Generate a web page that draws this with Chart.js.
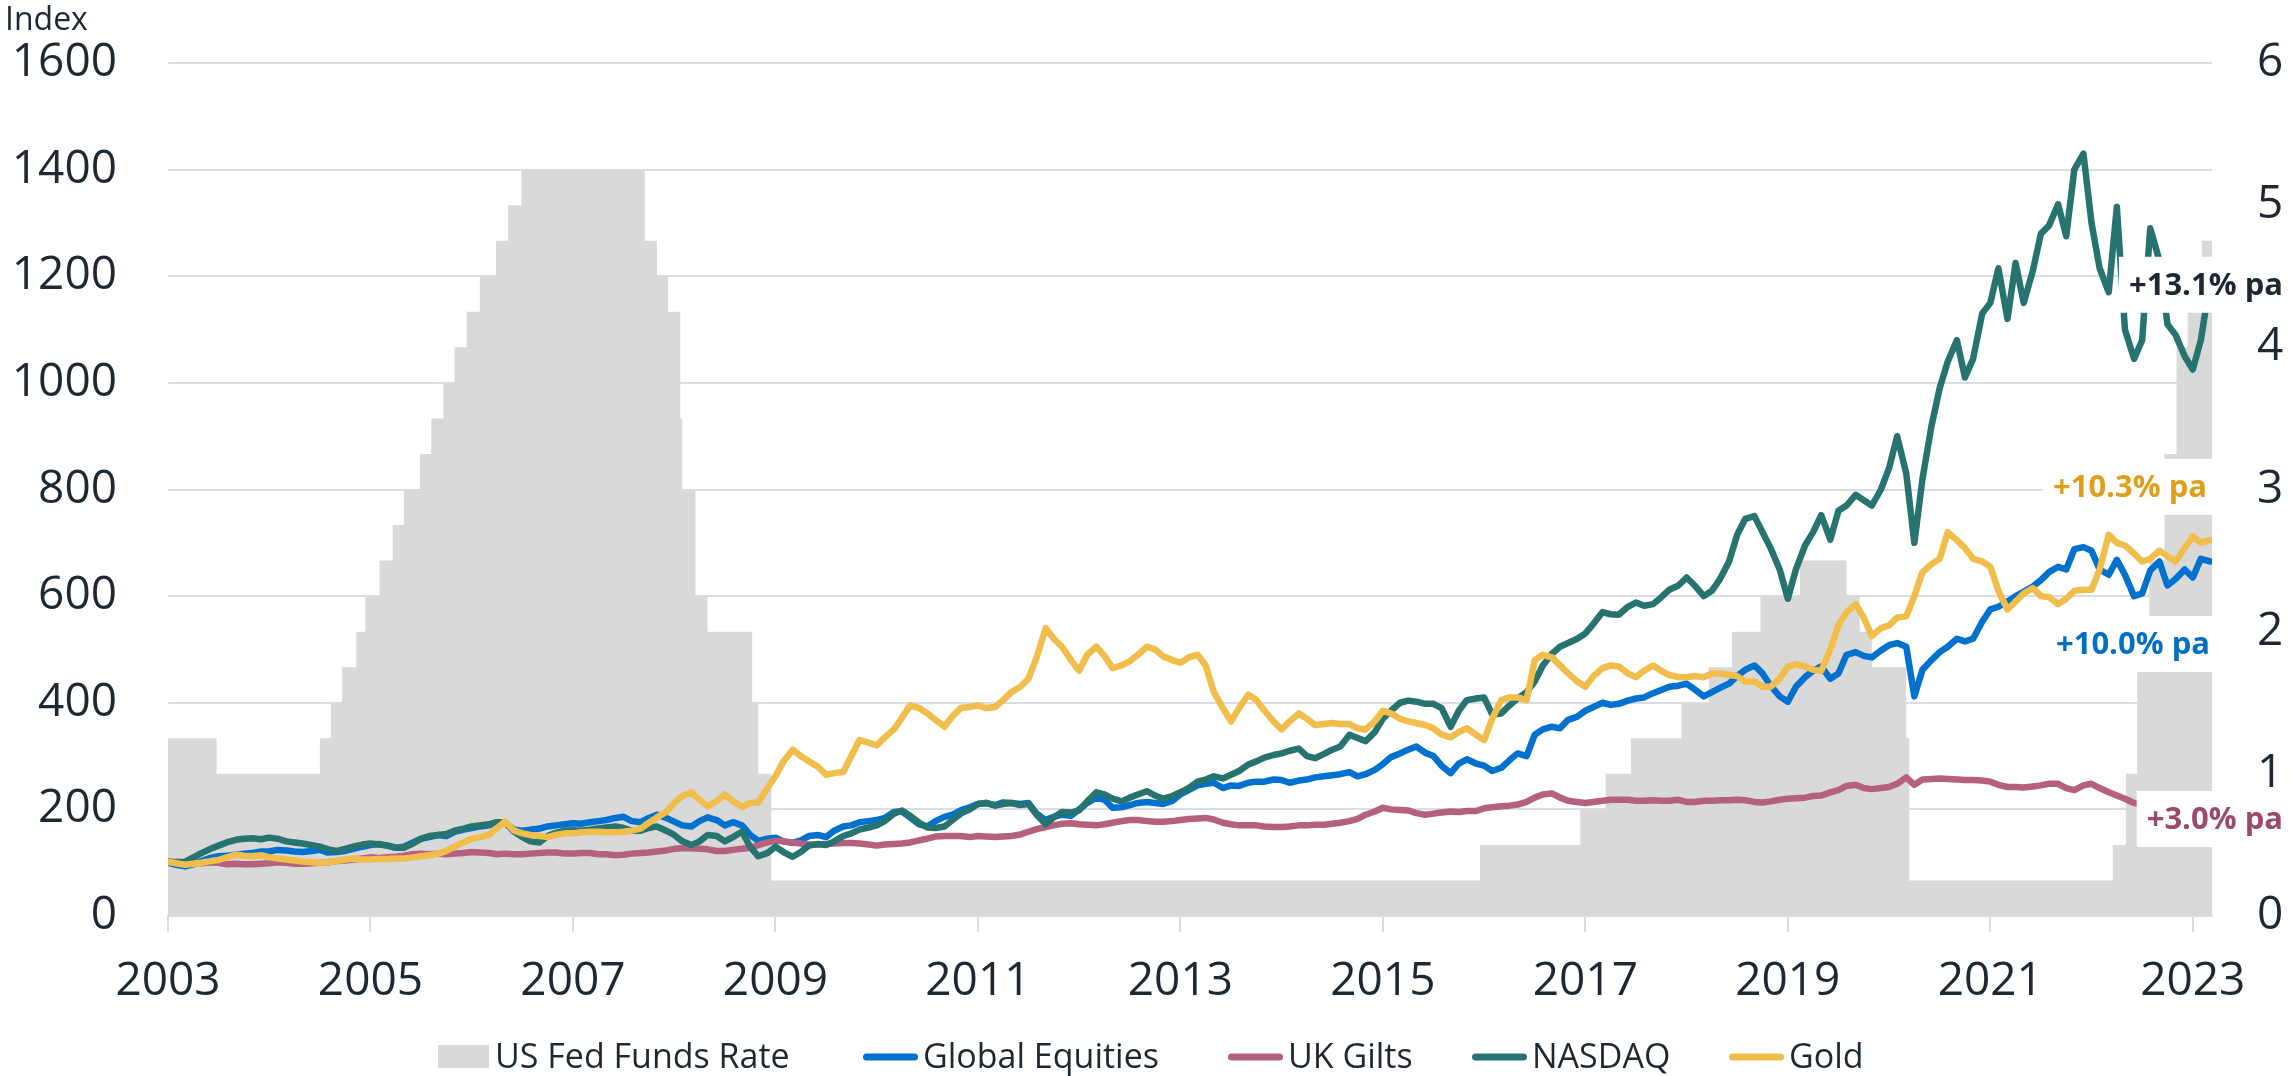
<!DOCTYPE html>
<html>
<head>
<meta charset="utf-8">
<script src="https://cdn.jsdelivr.net/npm/chart.js@4.4.0/dist/chart.umd.min.js"></script>
<style>
html,body{margin:0;padding:0;background:#ffffff;}
canvas{display:block;}
</style>
</head>
<body>
<canvas id="c" width="2290" height="1076"></canvas>
<script>
// ---------------- DATA (monthly observations, decimal years) ----------------
const dates = [
2003.00,2003.08,2003.17,2003.25,2003.33,2003.42,2003.50,2003.58,2003.67,2003.75,2003.83,2003.92,
2004.00,2004.08,2004.17,2004.25,2004.33,2004.42,2004.50,2004.58,2004.67,2004.75,2004.83,2004.92,
2005.00,2005.08,2005.17,2005.25,2005.33,2005.42,2005.50,2005.58,2005.67,2005.75,2005.83,2005.92,
2006.00,2006.08,2006.17,2006.25,2006.33,2006.42,2006.50,2006.58,2006.67,2006.75,2006.83,2006.92,
2007.00,2007.08,2007.17,2007.25,2007.33,2007.42,2007.50,2007.58,2007.67,2007.75,2007.83,2007.92,
2008.00,2008.08,2008.17,2008.25,2008.33,2008.42,2008.50,2008.58,2008.67,2008.75,2008.83,2008.92,
2009.00,2009.08,2009.17,2009.25,2009.33,2009.42,2009.50,2009.58,2009.67,2009.75,2009.83,2009.92,
2010.00,2010.08,2010.17,2010.25,2010.33,2010.42,2010.50,2010.58,2010.67,2010.75,2010.83,2010.92,
2011.00,2011.08,2011.17,2011.25,2011.33,2011.42,2011.50,2011.58,2011.67,2011.75,2011.83,2011.92,
2012.00,2012.08,2012.17,2012.25,2012.33,2012.42,2012.50,2012.58,2012.67,2012.75,2012.83,2012.92,
2013.00,2013.08,2013.17,2013.25,2013.33,2013.42,2013.50,2013.58,2013.67,2013.75,2013.83,2013.92,
2014.00,2014.08,2014.17,2014.25,2014.33,2014.42,2014.50,2014.58,2014.67,2014.75,2014.83,2014.92,
2015.00,2015.08,2015.17,2015.25,2015.33,2015.42,2015.50,2015.58,2015.67,2015.75,2015.83,2015.92,
2016.00,2016.08,2016.17,2016.25,2016.33,2016.42,2016.50,2016.58,2016.67,2016.75,2016.83,2016.92,
2017.00,2017.08,2017.17,2017.25,2017.33,2017.42,2017.50,2017.58,2017.67,2017.75,2017.83,2017.92,
2018.00,2018.08,2018.17,2018.25,2018.33,2018.42,2018.50,2018.58,2018.67,2018.75,2018.83,2018.92,
2019.00,2019.08,2019.17,2019.25,2019.33,2019.42,2019.50,2019.58,2019.67,2019.75,2019.83,2019.92,
2020.00,2020.08,2020.17,2020.25,2020.33,2020.42,2020.50,2020.58,2020.67,2020.75,2020.83,2020.92,
2021.00,2021.08,2021.17,2021.25,2021.33,2021.42,2021.50,2021.58,2021.67,2021.75,2021.83,2021.92,
2022.00,2022.08,2022.17,2022.25,2022.33,2022.42,2022.50,2022.58,2022.67,2022.75,2022.83,2022.92,
2023.00,2023.08,2023.17
];

const globalEquities = [
100,96,93,97,103,109,112,113,115,117,118,121,
121,124,123,121,120,122,124,119,120,122,126,130,
133,135,132,128,130,138,145,148,152,150,158,162,
165,168,170,176,174,162,160,162,164,168,170,172,
174,173,176,178,180,184,186,178,176,184,190,184,
177,170,168,178,185,180,170,176,170,152,141,145,
147,140,137,142,150,152,148,160,168,170,176,178,
180,184,195,196,185,172,168,178,186,190,198,204,
210,212,208,213,212,210,212,192,180,186,190,188,
200,212,222,218,203,204,208,212,214,212,210,216,
228,236,245,248,250,240,245,244,250,252,252,256,
255,250,254,256,260,262,264,266,270,262,266,274,
285,298,305,312,318,306,300,282,268,286,294,286,
282,272,278,292,305,300,340,350,355,352,368,374,
385,392,400,396,398,404,408,410,418,424,430,432,
436,425,412,420,428,436,450,462,470,455,432,412,
402,430,448,460,468,445,455,490,495,488,485,498,
508,512,505,412,462,480,495,505,520,515,520,552,
575,580,590,600,608,618,630,645,655,650,688,692,
685,650,640,668,640,600,605,648,665,620,632,650,
635,670,665
];

const ukGilts = [
100,102,101,100,99,101,100,97,98,97,97,98,
99,101,100,98,98,99,100,101,103,104,106,108,
110,109,110,111,113,116,117,116,117,116,117,118,
120,119,118,116,117,116,116,117,118,119,119,117,
117,118,118,116,116,114,115,117,118,119,121,123,
126,127,127,126,125,122,122,124,126,128,133,138,
141,140,138,136,134,134,135,136,137,137,136,134,
132,134,135,136,138,142,145,149,150,150,150,148,
150,149,148,149,150,153,158,163,167,170,173,174,
172,171,170,172,175,178,180,180,178,177,177,178,
180,182,183,184,181,175,172,170,170,170,168,167,
167,168,170,170,171,171,173,175,178,182,190,196,
203,200,199,198,193,190,192,194,196,195,197,197,
202,204,206,207,209,214,222,228,230,222,216,214,
212,214,216,218,218,218,216,216,217,216,216,218,
214,214,216,216,217,217,218,217,214,213,215,218,
220,221,222,225,226,232,236,244,246,240,238,240,
242,248,260,246,256,257,258,257,256,255,255,254,
252,246,242,242,241,243,245,248,248,240,236,245,
248,240,232,226,220,212,208,210,203,185,176,180,
185,186,182
];

const nasdaq = [
103,100,102,110,118,126,132,138,143,145,146,144,
147,145,140,138,136,133,130,125,122,126,130,134,
136,134,132,128,128,136,145,150,152,154,160,164,
168,170,172,176,175,158,148,140,138,150,156,160,
161,160,162,164,166,168,165,160,160,165,168,160,
152,140,133,140,152,150,140,148,158,130,112,118,
130,120,111,120,132,135,133,140,150,155,162,166,
170,178,192,198,188,175,166,165,168,180,192,200,
210,212,207,210,212,208,210,190,172,185,195,194,
198,215,232,228,220,215,222,228,234,226,220,225,
232,240,252,256,262,258,265,272,284,290,297,302,
305,310,314,300,296,304,312,318,340,334,328,345,
370,385,400,404,402,398,398,390,355,385,405,408,
410,378,380,395,408,420,440,470,492,505,512,520,
530,548,570,566,565,580,588,582,585,598,612,620,
635,620,600,610,632,665,715,745,750,720,690,650,
595,650,695,720,752,706,760,770,790,780,770,800,
840,900,830,700,820,920,990,1040,1080,1010,1045,1130,
1150,1215,1120,1225,1150,1210,1280,1295,1335,1275,1400,1430,
1300,1215,1170,1330,1100,1045,1080,1290,1230,1110,1090,1050,
1025,1080,1190
];

const gold = [
102,99,96,98,100,103,105,110,115,113,112,114,
110,108,106,104,102,101,100,101,103,106,108,106,
106,107,107,108,108,110,112,114,117,122,130,138,
145,148,152,165,177,160,155,152,150,148,152,155,
155,157,158,158,157,157,158,160,164,175,185,195,
212,225,232,218,206,215,228,215,205,212,213,240,
262,290,312,300,290,280,265,268,270,300,330,325,
320,335,350,372,395,390,380,368,355,375,390,392,
395,390,392,405,420,430,445,485,540,520,505,480,
460,490,505,488,465,470,478,490,505,500,487,480,
475,485,490,470,420,390,365,390,415,405,385,365,
350,365,380,370,358,360,362,360,360,352,350,365,
385,380,370,365,362,358,352,340,335,345,352,340,
330,370,405,410,410,405,480,490,485,470,455,440,
430,450,465,470,468,455,448,460,470,460,452,448,
448,450,448,455,455,452,450,440,440,430,430,445,
468,472,468,462,460,500,545,570,585,560,525,540,
545,560,562,600,645,660,670,720,705,690,670,665,
655,610,575,590,605,615,600,598,585,595,610,612,
612,650,715,700,695,680,665,670,685,675,665,690,
712,700,705
];

const fedDates = [
2003.00,2003.48,2004.50,2004.61,2004.72,2004.86,2004.95,2005.09,2005.22,2005.33,
2005.49,2005.60,2005.72,2005.83,2005.95,2006.08,2006.24,2006.36,2006.49,2007.71,
2007.83,2007.94,2008.06,2008.08,2008.21,2008.33,2008.77,2008.83,2008.96,2015.96,
2016.95,2017.20,2017.45,2017.95,2018.22,2018.45,2018.73,2019.12,2019.58,2019.71,
2019.83,2020.17,2020.20,2022.21,2022.34,2022.45,2022.57,2022.72,2022.84,2022.95,
2023.09,2023.19
];
const fedRates = [
1.25,1.00,1.25,1.50,1.75,2.00,2.25,2.50,2.75,3.00,
3.25,3.50,3.75,4.00,4.25,4.50,4.75,5.00,5.25,4.75,
4.50,4.25,3.50,3.00,2.25,2.00,1.50,1.00,0.25,0.50,
0.75,1.00,1.25,1.50,1.75,2.00,2.25,2.50,2.25,2.00,
1.75,1.25,0.25,0.50,1.00,1.75,2.50,3.25,4.00,4.50,
4.75,4.75
];

const xTickYears = [2003,2005,2007,2009,2011,2013,2015,2017,2019,2021,2023];
const seriesNames = ['US Fed Funds Rate','Global Equities','UK Gilts','NASDAQ','Gold'];
const returnLabels = ['+13.1% pa','+10.3% pa','+10.0% pa','+3.0% pa'];

// ---------------- STYLE ----------------
const COL = {
  fed: '#D9D9D9', eq: '#0071CE', gilts: '#B5607F', nasdaq: '#26736F', gold: '#F1BD4B',
  text: '#1E2833', grid: '#D9DEE6', axis: '#D6DCE4'
};
const FONT = '"Open Sans", "DejaVu Sans", sans-serif';

Chart.defaults.font.family = FONT;
Chart.defaults.color = COL.text;

const toXY = (xs, ys) => xs.map((x, i) => ({x: x, y: ys[i]}));

// annotation placement: vertical centre in index units, pixel offsets from plot right edge
const annotationCfg = [
  {label: 0, color: '#1E2833', level: 1184, textRight: 71, boxRight: 80},
  {label: 1, color: '#DF9F1C', level: 805,  textRight: -5, boxRight: 3},
  {label: 2, color: '#0070C4', level: 510,  textRight: -2, boxRight: 3},
  {label: 3, color: '#9C4A6B', level: 182,  textRight: 71, boxRight: 80}
];
// legend symbol left edges (pixels)
const legendX = [438, 863, 1228, 1472, 1729];

const annotationPlugin = {
  id: 'returnLabels',
  afterDatasetsDraw(chart) {
    const ctx = chart.ctx, y = chart.scales.y, area = chart.chartArea;
    ctx.save();
    ctx.font = 'bold 31px ' + FONT;
    ctx.textBaseline = 'middle';
    ctx.textAlign = 'right';
    annotationCfg.forEach(a => {
      const txt = returnLabels[a.label];
      const py = y.getPixelForValue(a.level);
      const tr = area.right + a.textRight;
      const w = ctx.measureText(txt).width;
      const left = tr - w - 10;
      const right = area.right + a.boxRight;
      ctx.fillStyle = '#ffffff';
      ctx.fillRect(left, py - 28, right - left, 56);
      ctx.fillStyle = a.color;
      ctx.fillText(txt, tr, py + 1);
    });
    ctx.restore();
  },
  afterDraw(chart) {
    const ctx = chart.ctx;
    ctx.save();
    ctx.font = '32px ' + FONT;
    ctx.fillStyle = COL.text;
    ctx.textAlign = 'left';
    ctx.textBaseline = 'alphabetic';
    ctx.fillText('Index', 5, 30);
    ctx.font = '34px ' + FONT;
    ctx.textBaseline = 'middle';
    const ly = 1057;
    chart.data.datasets.forEach((d, i) => {
      const x = legendX[i];
      let tx;
      if (d.fill) {
        ctx.fillStyle = d.backgroundColor;
        ctx.fillRect(x, ly - 12, 51, 23);
        tx = x + 57;
      } else {
        ctx.strokeStyle = d.borderColor;
        ctx.lineWidth = 7;
        ctx.lineCap = 'round';
        ctx.beginPath();
        ctx.moveTo(x + 3.5, ly);
        ctx.lineTo(x + 55 - 3.5, ly);
        ctx.stroke();
        tx = x + 60;
      }
      ctx.fillStyle = COL.text;
      ctx.fillText(d.label, tx, ly + 1);
    });
    ctx.restore();
  }
};

const lineDs = (label, vals, color, order) => ({
  label: label, data: toXY(dates, vals), yAxisID: 'y',
  borderColor: color, backgroundColor: color, borderWidth: 6.5,
  pointRadius: 0, pointHoverRadius: 0, tension: 0,
  borderJoinStyle: 'round', borderCapStyle: 'round', fill: false, order: order
});

const noPad = s => { s.paddingTop = 0; s.paddingBottom = 0; };

const chart = new Chart(document.getElementById('c'), {
  type: 'line',
  data: {
    datasets: [
      {
        label: seriesNames[0], data: toXY(fedDates, fedRates), yAxisID: 'y1',
        stepped: true, fill: 'origin', backgroundColor: COL.fed,
        borderColor: 'rgba(0,0,0,0)', borderWidth: 0, pointRadius: 0, pointHoverRadius: 0, order: 5
      },
      lineDs(seriesNames[1], globalEquities, COL.eq, 4),
      lineDs(seriesNames[2], ukGilts, COL.gilts, 3),
      lineDs(seriesNames[3], nasdaq, COL.nasdaq, 2),
      lineDs(seriesNames[4], gold, COL.gold, 1)
    ]
  },
  options: {
    responsive: false,
    devicePixelRatio: 1,
    animation: false,
    events: [],
    layout: { padding: { top: 63, left: 0, right: 0, bottom: 0 } },
    plugins: { legend: { display: false }, tooltip: { enabled: false } },
    scales: {
      x: {
        type: 'linear', min: 2003, max: 2023.19,
        afterBuildTicks: s => { s.ticks = xTickYears.map(v => ({value: v})); },
        afterFit: s => { s.height = 160; },
        grid: { drawOnChartArea: false, drawTicks: true, tickLength: 16, color: COL.axis, lineWidth: 2 },
        border: { display: true, color: COL.axis, width: 2 },
        ticks: { autoSkip: false, maxRotation: 0, padding: 22, font: { size: 46 }, color: COL.text,
                 callback: v => String(v) }
      },
      y: {
        position: 'left', min: 0, max: 1600,
        afterFit: s => { s.width = 168; noPad(s); },
        grid: { color: COL.grid, lineWidth: 2, drawTicks: false },
        border: { display: false },
        ticks: { stepSize: 200, padding: 51, font: { size: 46 }, color: COL.text, callback: v => String(v) }
      },
      y1: {
        position: 'right', min: 0, max: 6,
        afterFit: s => { s.width = 78; noPad(s); },
        grid: { display: false, drawTicks: false, drawOnChartArea: false },
        border: { display: false },
        ticks: { stepSize: 1, padding: 45, font: { size: 46 }, color: COL.text, callback: v => String(v) }
      }
    }
  },
  plugins: [annotationPlugin]
});
if (document.fonts && document.fonts.ready) {
  document.fonts.ready.then(() => chart.update('none'));
}
</script>
</body>
</html>
